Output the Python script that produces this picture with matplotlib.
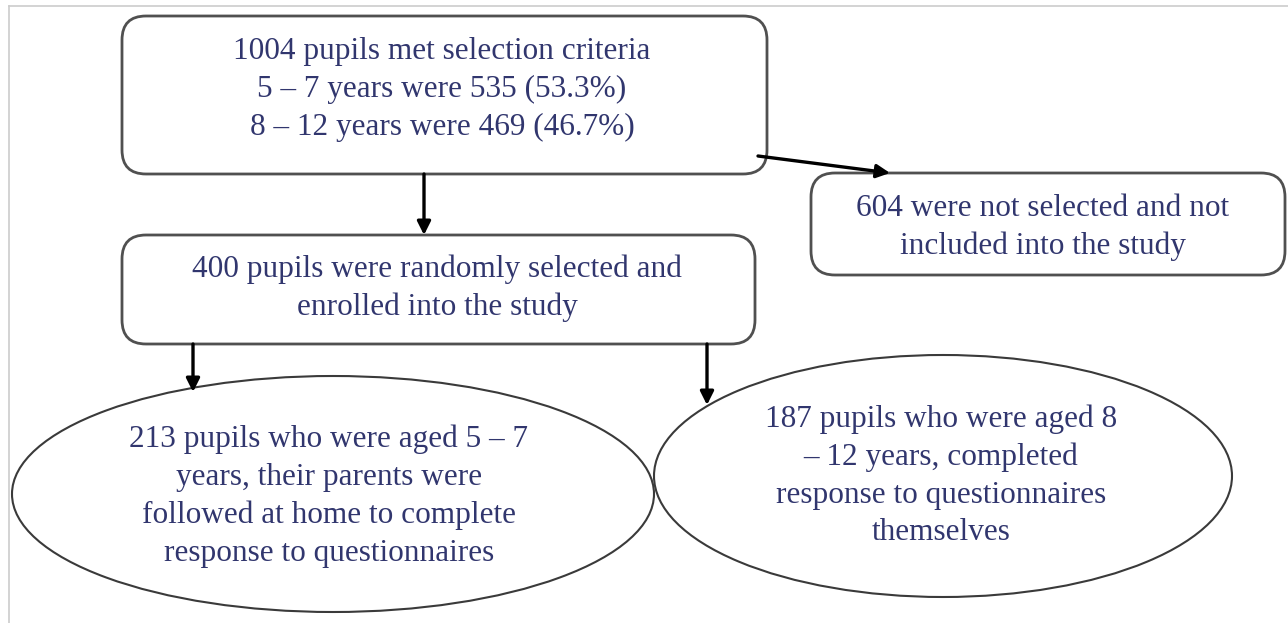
import matplotlib.pyplot as plt
from matplotlib.patches import FancyBboxPatch, Ellipse

# Flowchart text (one list of lines per node)
top_lines = ["1004 pupils met selection criteria",
             "5 \u2013 7 years were 535 (53.3%)",
             "8 \u2013 12 years were 469 (46.7%)"]
excluded_lines = ["604 were not selected and not",
                  "included into the study"]
enrolled_lines = ["400 pupils were randomly selected and",
                  "enrolled into the study"]
young_lines = ["213 pupils who were aged 5 \u2013 7",
               "years, their parents were",
               "followed at home to complete",
               "response to questionnaires"]
older_lines = ["187 pupils who were aged 8",
               "\u2013 12 years, completed",
               "response to questionnaires",
               "themselves"]

text_color = '#31366e'
box_edge = '#505050'
W, H = 1288, 623

fig = plt.figure(figsize=(W / 100, H / 100), dpi=100)
ax = fig.add_axes([0, 0, 1, 1])
ax.set_xlim(0, W)
ax.set_ylim(H, 0)
ax.axis('off')

# light frame on the left and top
ax.plot([9, 9], [6, H], color='#cccccc', lw=1.2)
ax.plot([9, W], [6, 6], color='#cccccc', lw=1.2)


def box(x0, y0, x1, y1):
    p = FancyBboxPatch((x0, y0), x1 - x0, y1 - y0,
                       boxstyle='round,pad=0,rounding_size=24',
                       fc='white', ec=box_edge, lw=2.0)
    ax.add_patch(p)


def ellipse(cx, cy, a, b):
    ax.add_patch(Ellipse((cx, cy), 2 * a, 2 * b, fc='none', ec='#3a3a3a', lw=1.5))


def lines(cx, y_first, items, step=38):
    for i, s in enumerate(items):
        ax.text(cx, y_first + i * step, s, ha='center', va='center',
                fontsize=22.5, family='Liberation Serif', color=text_color)


def arrow(x0, y0, x1, y1):
    ax.annotate('', xy=(x1, y1), xytext=(x0, y0),
                arrowprops=dict(arrowstyle='-|>', lw=2.4, color='black',
                                mutation_scale=20, shrinkA=0, shrinkB=0))


box(122, 16, 767, 174)
box(811, 173, 1285, 275)
box(122, 235, 755, 344)
ellipse(333, 494, 321, 118)
ellipse(943, 476, 289, 121)

lines(442, 51, top_lines)
lines(1043, 208, excluded_lines)
lines(437, 269, enrolled_lines)
lines(329, 439, young_lines)
lines(941, 419, older_lines)

arrow(424, 174, 424, 235)
arrow(758, 156, 890, 173)
arrow(193, 344, 193, 392)
arrow(707, 344, 707, 405)

fig.savefig('out.png', dpi=100, facecolor='white')
